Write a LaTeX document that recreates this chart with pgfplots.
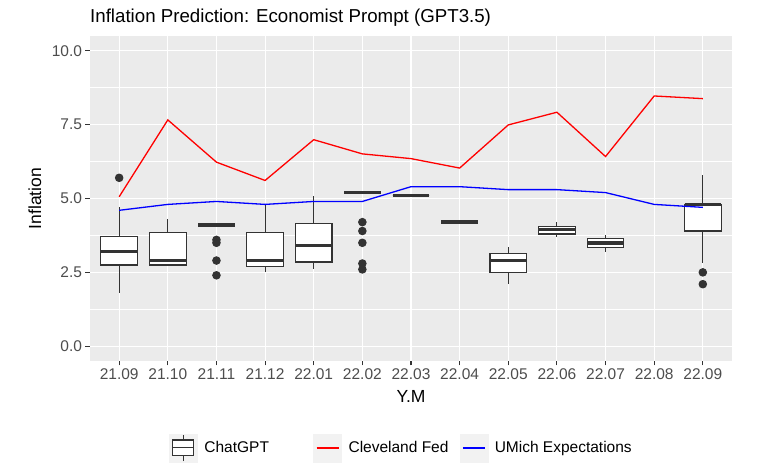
\documentclass[border=0pt]{standalone}
\usepackage{fontspec}
\setmainfont{Liberation Sans}
\usepackage{pgfplots}
\pgfplotsset{compat=1.18}
\usepgfplotslibrary{statistics}

\definecolor{panelbg}{HTML}{EBEBEB}
\definecolor{boxc}{HTML}{333333}
\definecolor{tickc}{HTML}{4D4D4D}
\definecolor{legkey}{HTML}{F2F2F2}

% ggplot-like boxplot look
\pgfplotsset{
  gbox/.style={
    forget plot, solid,
    boxplot/draw direction=y,
    boxplot/box extend=0.75,
    boxplot/whisker extend=0,
    boxplot/every median/.style={line width=3.4pt},
    draw=boxc, fill=white, line width=1.1pt,
    mark=*, mark size=3.7pt,
    mark options={fill=boxc, draw=none},
  },
}

\begin{document}
\begin{tikzpicture}
\useasboundingbox (-90pt,-112pt) rectangle (678pt,361pt);
\begin{axis}[
    at={(0,0)}, anchor=south west,
    scale only axis,
    width=642pt, height=325pt,
    xmin=-0.6, xmax=12.6,
    ymin=-0.5, ymax=10.5,
    axis background/.style={fill=panelbg},
    axis line style={draw=none},
    xtick={0,...,12},
    xticklabels={21.09,21.10,21.11,21.12,22.01,22.02,22.03,22.04,22.05,22.06,22.07,22.08,22.09},
    ytick={0,2.5,5,7.5,10},
    minor ytick={1.25,3.75,6.25,8.75},
    xmajorgrids, ymajorgrids, yminorgrids,
    major grid style={white, line width=1.1pt},
    minor grid style={white, line width=0.55pt},
    tick align=outside,
    xtick pos=bottom, ytick pos=left,
    major tick length=4.5pt, minor tick length=0pt,
    tick style={boxc, line width=1.1pt},
    ticklabel style={font=\fontsize{15.5}{18}\selectfont, text=tickc},
    yticklabel style={/pgf/number format/.cd, fixed, fixed zerofill, precision=1, assume math mode=true},
    title={Inflation Prediction: Economist Prompt (GPT3.5)},
    title style={at={(0,1)}, anchor=base west, yshift=7pt, inner sep=0pt, font=\fontsize{18.7}{22}\selectfont},
    xlabel={Y.M},
    ylabel={Inflation},
    every axis x label/.style={at={(axis description cs:0.5,-0.128)}, anchor=base, inner sep=0pt, font=\fontsize{17.5}{21}\selectfont},
    every axis y label/.style={at={(axis description cs:-0.0857,0.5)}, rotate=90, anchor=center, inner sep=0pt, font=\fontsize{17.5}{21}\selectfont},
    legend columns=3,
    legend style={at={(axis description cs:0.123,-0.2677)}, anchor=west,
      draw=none, fill=none, inner sep=0pt, column sep=0pt,
      nodes={inner sep=0pt, anchor=west},
      font=\fontsize{15.5}{18}\selectfont},
]

% ChatGPT answers, one box per month
\addplot[gbox, boxplot prepared={draw position=0, lower whisker=1.8, lower quartile=2.75, median=3.2, upper quartile=3.7, upper whisker=4.7}] coordinates {(0,5.7)};
\addplot[gbox, boxplot prepared={draw position=1, lower whisker=2.7, lower quartile=2.75, median=2.9, upper quartile=3.85, upper whisker=4.3}] coordinates {};
\addplot[gbox, boxplot prepared={draw position=2, lower whisker=4.1, lower quartile=4.1, median=4.1, upper quartile=4.1, upper whisker=4.1}] coordinates {(2,3.6) (2,3.5) (2,2.9) (2,2.4)};
\addplot[gbox, boxplot prepared={draw position=3, lower whisker=2.5, lower quartile=2.7, median=2.9, upper quartile=3.85, upper whisker=4.8}] coordinates {};
\addplot[gbox, boxplot prepared={draw position=4, lower whisker=2.6, lower quartile=2.85, median=3.4, upper quartile=4.15, upper whisker=5.1}] coordinates {};
\addplot[gbox, boxplot prepared={draw position=5, lower whisker=5.2, lower quartile=5.2, median=5.2, upper quartile=5.2, upper whisker=5.2}] coordinates {(5,4.2) (5,3.9) (5,3.5) (5,2.8) (5,2.6)};
\addplot[gbox, boxplot prepared={draw position=6, lower whisker=5.1, lower quartile=5.1, median=5.1, upper quartile=5.1, upper whisker=5.1}] coordinates {};
\addplot[gbox, boxplot prepared={draw position=7, lower whisker=4.2, lower quartile=4.2, median=4.2, upper quartile=4.2, upper whisker=4.2}] coordinates {};
\addplot[gbox, boxplot prepared={draw position=8, lower whisker=2.1, lower quartile=2.5, median=2.9, upper quartile=3.15, upper whisker=3.35}] coordinates {};
\addplot[gbox, boxplot prepared={draw position=9, lower whisker=3.7, lower quartile=3.8, median=3.95, upper quartile=4.05, upper whisker=4.2}] coordinates {};
\addplot[gbox, boxplot prepared={draw position=10, lower whisker=3.2, lower quartile=3.35, median=3.5, upper quartile=3.65, upper whisker=3.75}] coordinates {};
\addplot[gbox, boxplot prepared={draw position=12, lower whisker=2.8, lower quartile=3.9, median=4.8, upper quartile=4.8, upper whisker=5.8}] coordinates {(12,2.5) (12,2.1)};

% Cleveland Fed
\addplot[forget plot, red, line width=1.3pt, mark=none] coordinates {
  (0,5.06) (1,7.66) (2,6.23) (3,5.61) (4,6.99) (5,6.51) (6,6.35)
  (7,6.03) (8,7.49) (9,7.92) (10,6.42) (11,8.47) (12,8.38)
};
% UMich expectations
\addplot[forget plot, blue, line width=1.3pt, mark=none] coordinates {
  (0,4.6) (1,4.8) (2,4.9) (3,4.8) (4,4.9) (5,4.9) (6,5.4)
  (7,5.4) (8,5.3) (9,5.3) (10,5.2) (11,4.8) (12,4.7)
};

\addlegendimage{legend image code/.code={
  \fill[legkey] (0pt,-14pt) rectangle (28pt,14pt);
  \path[draw=none, fill=none] (0pt,0pt) -- (35pt,0pt);
  \draw[boxc, line width=1.1pt] (14pt,-13pt) -- (14pt,13pt);
  \filldraw[fill=white, draw=boxc, line width=1.1pt] (3.5pt,-7.5pt) rectangle (24.5pt,8pt);
  \draw[boxc, line width=1.1pt] (3.5pt,0.25pt) -- (24.5pt,0.25pt);
}}
\addlegendentry{\makebox[109pt][l]{ChatGPT}}
\addlegendimage{legend image code/.code={
  \fill[legkey] (0pt,-14pt) rectangle (28pt,14pt);
  \path[draw=none, fill=none] (0pt,0pt) -- (35pt,0pt);
  \draw[red, line width=1.3pt] (3pt,0pt) -- (25pt,0pt);
}}
\addlegendentry{\makebox[111pt][l]{Cleveland Fed}}
\addlegendimage{legend image code/.code={
  \fill[legkey] (0pt,-14pt) rectangle (28pt,14pt);
  \path[draw=none, fill=none] (0pt,0pt) -- (35pt,0pt);
  \draw[blue, line width=1.3pt] (3pt,0pt) -- (25pt,0pt);
}}
\addlegendentry{UMich Expectations}
\end{axis}
\end{tikzpicture}
\end{document}
